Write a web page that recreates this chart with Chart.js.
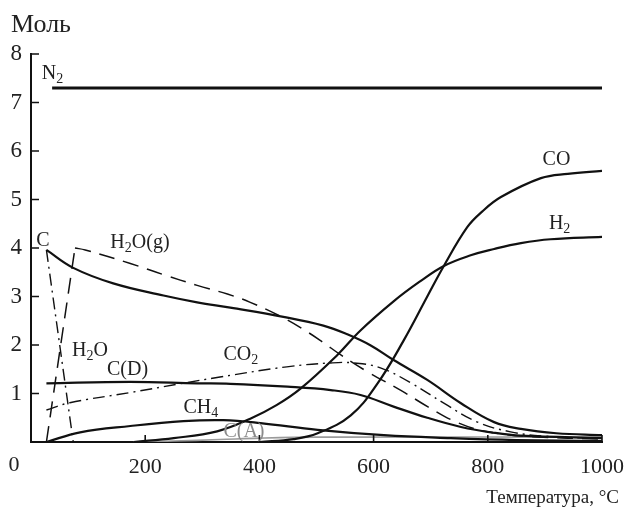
<!DOCTYPE html>
<html lang="ru">
<head>
<meta charset="UTF-8">
<title>Моль — Температура</title>
<style>
  html, body { margin: 0; padding: 0; background: #fff; }
  #wrap { width: 624px; height: 512px; }
</style>
</head>
<body>
<div id="wrap"><canvas id="chart" width="624" height="512"></canvas></div>
<script src="https://cdn.jsdelivr.net/npm/chart.js"></script>
<script>
// axis ticks
const xTicks = [0, 200, 400, 600, 800, 1000];
const yTicks = [1, 2, 3, 4, 5, 6, 7, 8];

// series: temperature (°C) and amount (моль)
const tN2 = [37, 1000];
const vN2 = [7.3, 7.3];

const tC = [27, 74, 144, 232, 291, 349, 442, 512, 554, 595, 635, 694, 753, 811, 858, 920, 1000];
const vC = [3.96, 3.59, 3.27, 3.02, 2.88, 2.77, 2.58, 2.40, 2.22, 1.99, 1.69, 1.28, 0.80, 0.41, 0.27, 0.18, 0.14];

const tCD = [27, 174, 291, 349, 449, 525, 577, 635, 694, 753, 811, 858, 1000];
const vCD = [1.21, 1.24, 1.21, 1.2, 1.14, 1.07, 0.97, 0.73, 0.5, 0.31, 0.19, 0.13, 0.08];

const tH2Ol = [27, 74];
const vH2Ol = [3.96, 0];

const tH2OgRise = [27, 77];
const vH2OgRise = [0, 4.0];
const tH2Og = [77, 95, 174, 232, 291, 344, 384, 442, 484, 512, 542, 589, 647, 696, 747, 800, 880, 1000];
const vH2Og = [4.0, 3.96, 3.68, 3.45, 3.23, 3.05, 2.88, 2.56, 2.27, 2.05, 1.80, 1.45, 1.07, 0.72, 0.40, 0.21, 0.11, 0.06];

const tCO2 = [27, 68, 174, 261, 331, 448, 525, 566, 612, 665, 723, 782, 840, 900, 1000];
const vCO2 = [0.66, 0.81, 1.02, 1.2, 1.34, 1.55, 1.63, 1.63, 1.53, 1.22, 0.80, 0.41, 0.21, 0.12, 0.07];

const tCH4 = [27, 86, 174, 267, 337, 402, 502, 618, 735, 850, 1000];
const vCH4 = [0, 0.2, 0.33, 0.43, 0.45, 0.39, 0.25, 0.14, 0.08, 0.04, 0.02];

const tH2 = [180, 250, 326, 384, 430, 472, 537, 577, 635, 680, 723, 770, 811, 858, 910, 1000];
const vH2 = [0, 0.08, 0.22, 0.48, 0.76, 1.1, 1.8, 2.3, 2.9, 3.3, 3.63, 3.85, 3.98, 4.1, 4.18, 4.23];

const tCO = [400, 460, 502, 560, 607, 653, 694, 723, 764, 790, 823, 893, 940, 1000];
const vCO = [0, 0.06, 0.18, 0.55, 1.21, 2.1, 3.0, 3.63, 4.43, 4.75, 5.05, 5.44, 5.53, 5.59];

const tCA = [180, 250, 330, 400, 500, 1000];
const vCA = [0, 0.02, 0.05, 0.08, 0.1, 0.1];

// curve captions: [text parts], anchor in data units
const captions = [
  { parts: [['N', 0], ['2', 1]], t: 19, v: 7.6 },
  { parts: [['C', 0]], t: 9, v: 4.14 },
  { parts: [['H', 0], ['2', 1], ['O(g)', 0]], t: 139, v: 4.1 },
  { parts: [['H', 0], ['2', 1], ['O', 0]], t: 72, v: 1.88 },
  { parts: [['C(D)', 0]], t: 133, v: 1.48 },
  { parts: [['CO', 0], ['2', 1]], t: 337, v: 1.79 },
  { parts: [['CH', 0], ['4', 1]], t: 267, v: 0.70 },
  { parts: [['C(A)', 0]], t: 337, v: 0.21, gray: true },
  { parts: [['CO', 0]], t: 896, v: 5.81 },
  { parts: [['H', 0], ['2', 1]], t: 907, v: 4.5 }
];

const SERIF = "'Liberation Serif', 'Times New Roman', serif";
const DASHED = [16, 9];
const DASHDOT = [12, 5, 2, 5];

function pts(t, v) {
  return t.map((x, i) => ({ x: x, y: v[i] }));
}

function line(label, t, v, opts) {
  return Object.assign({
    label: label,
    data: pts(t, v),
    borderColor: '#111',
    borderWidth: 2.2,
    pointRadius: 0,
    fill: false,
    tension: 0.4
  }, opts || {});
}

const datasets = [
  line('N2', tN2, vN2, { borderWidth: 3, tension: 0 }),
  line('C', tC, vC),
  line('C(D)', tCD, vCD),
  line('H2O', tH2Ol, vH2Ol, { borderDash: DASHDOT, borderWidth: 1.4, tension: 0 }),
  line('H2O(g) rise', tH2OgRise, vH2OgRise, { borderDash: DASHED, borderWidth: 1.5, tension: 0 }),
  line('H2O(g)', tH2Og, vH2Og, { borderDash: DASHED, borderWidth: 1.5 }),
  line('CO2', tCO2, vCO2, { borderDash: DASHDOT, borderWidth: 1.4 }),
  line('CH4', tCH4, vCH4),
  line('H2', tH2, vH2),
  line('CO', tCO, vCO),
  line('C(A)', tCA, vCA, { borderColor: '#9a9a9a', borderWidth: 1.6 })
];

function drawParts(ctx, parts, x, y, size, color) {
  ctx.fillStyle = color;
  ctx.textBaseline = 'middle';
  ctx.textAlign = 'left';
  parts.forEach(p => {
    const sub = p[1] === 1;
    ctx.font = (sub ? Math.round(size * 0.68) : size) + 'px ' + SERIF;
    ctx.fillText(p[0], x, sub ? y + size * 0.28 : y);
    x += ctx.measureText(p[0]).width;
  });
}

const decor = {
  id: 'decor',
  afterDraw(chart) {
    const ctx = chart.ctx;
    const xs = chart.scales.x, ys = chart.scales.y;
    const area = chart.chartArea;
    ctx.save();
    // inward tick marks
    ctx.strokeStyle = '#111';
    ctx.lineWidth = 1.6;
    ctx.beginPath();
    yTicks.forEach(v => {
      const py = ys.getPixelForValue(v);
      ctx.moveTo(area.left, py);
      ctx.lineTo(area.left + 8, py);
    });
    xTicks.forEach(t => {
      if (t === 0) return;
      const px = xs.getPixelForValue(t);
      ctx.moveTo(px, area.bottom);
      ctx.lineTo(px, area.bottom - 7);
    });
    ctx.stroke();

    // origin label sits left of the axis
    ctx.fillStyle = '#222';
    ctx.font = '22px ' + SERIF;
    ctx.textAlign = 'center';
    ctx.textBaseline = 'middle';
    ctx.fillText('0', 14, area.bottom + 23);

    // axis titles
    ctx.font = '26px ' + SERIF;
    ctx.textAlign = 'left';
    ctx.fillText('Моль', 11, 25);
    ctx.font = '19px ' + SERIF;
    ctx.textAlign = 'right';
    ctx.fillText('Температура, °C', 619, 498);

    // curve captions
    captions.forEach(c => {
      drawParts(ctx, c.parts, xs.getPixelForValue(c.t), ys.getPixelForValue(c.v), 20,
        c.gray ? '#8a8a8a' : '#222');
    });
    ctx.restore();
  }
};

new Chart(document.getElementById('chart'), {
  type: 'line',
  data: { datasets: datasets },
  options: {
    responsive: false,
    animation: false,
    devicePixelRatio: 1,
    layout: { padding: { left: 0, right: 22, top: 54, bottom: 0 } },
    plugins: { legend: { display: false }, tooltip: { enabled: false } },
    scales: {
      x: {
        type: 'linear',
        min: 0,
        max: 1000,
        afterBuildTicks: s => { s.ticks = xTicks.map(v => ({ value: v })); },
        afterFit: s => { s.height = 70; s.paddingLeft = 0; s.paddingRight = 0; },
        grid: { display: false, drawTicks: false },
        border: { display: true, color: '#111', width: 2 },
        ticks: {
          color: '#222',
          padding: 12,
          maxRotation: 0,
          font: { family: SERIF, size: 22 },
          callback: v => (v === 0 ? '' : String(v))
        }
      },
      y: {
        min: 0,
        max: 8,
        afterBuildTicks: s => { s.ticks = yTicks.map(v => ({ value: v })); },
        afterFit: s => { s.width = 31; s.paddingTop = 0; s.paddingBottom = 0; },
        grid: { display: false, drawTicks: false },
        border: { display: true, color: '#111', width: 2 },
        ticks: {
          color: '#222',
          padding: 9,
          font: { family: SERIF, size: 23 },
          callback: v => String(v)
        }
      }
    }
  },
  plugins: [decor]
});
</script>
</body>
</html>
